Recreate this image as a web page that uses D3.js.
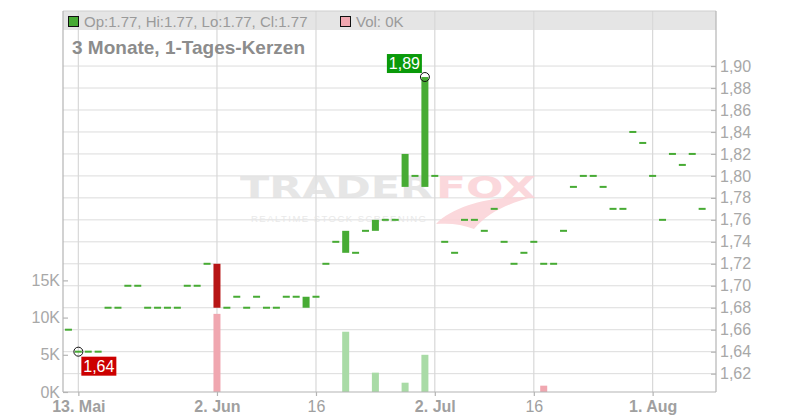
<!DOCTYPE html>
<html><head><meta charset="utf-8">
<script src="https://cdn.jsdelivr.net/npm/d3@7"></script>
<style>body{margin:0;background:#fff} svg{display:block;font-family:"Liberation Sans",Arial,sans-serif}</style>
</head><body><svg id="c" width="800" height="420"></svg>
<script>
const dates = [
 "2025-05-12","2025-05-13","2025-05-14","2025-05-15","2025-05-16","2025-05-19","2025-05-20","2025-05-21","2025-05-22","2025-05-23",
 "2025-05-26","2025-05-27","2025-05-28","2025-05-29","2025-05-30","2025-06-02","2025-06-03","2025-06-04","2025-06-05","2025-06-06",
 "2025-06-09","2025-06-10","2025-06-11","2025-06-12","2025-06-13","2025-06-16","2025-06-17","2025-06-18","2025-06-19","2025-06-20",
 "2025-06-23","2025-06-24","2025-06-25","2025-06-26","2025-06-27","2025-06-30","2025-07-01","2025-07-02","2025-07-03","2025-07-04",
 "2025-07-07","2025-07-08","2025-07-09","2025-07-10","2025-07-11","2025-07-14","2025-07-15","2025-07-16","2025-07-17","2025-07-18",
 "2025-07-21","2025-07-22","2025-07-23","2025-07-24","2025-07-25","2025-07-28","2025-07-29","2025-07-30","2025-07-31","2025-08-01",
 "2025-08-04","2025-08-05","2025-08-06","2025-08-07","2025-08-08"];
const opens = [
 1.66,1.64,1.64,1.64,1.68,1.68,1.70,1.70,1.68,1.68,
 1.68,1.68,1.70,1.70,1.72,1.72,1.68,1.69,1.68,1.69,
 1.68,1.68,1.69,1.69,1.68,1.69,1.72,1.74,1.73,1.73,
 1.75,1.75,1.76,1.76,1.79,1.80,1.79,1.80,1.74,1.73,
 1.76,1.76,1.75,1.77,1.74,1.72,1.73,1.74,1.72,1.72,
 1.75,1.79,1.80,1.80,1.79,1.77,1.77,1.84,1.83,1.80,
 1.76,1.82,1.81,1.82,1.77];
const closes = [
 1.66,1.64,1.64,1.64,1.68,1.68,1.70,1.70,1.68,1.68,
 1.68,1.68,1.70,1.70,1.72,1.68,1.68,1.69,1.68,1.69,
 1.68,1.68,1.69,1.69,1.69,1.69,1.72,1.74,1.75,1.73,
 1.75,1.76,1.76,1.76,1.82,1.80,1.89,1.80,1.74,1.73,
 1.76,1.76,1.75,1.77,1.74,1.72,1.73,1.74,1.72,1.72,
 1.75,1.79,1.80,1.80,1.79,1.77,1.77,1.84,1.83,1.80,
 1.76,1.82,1.81,1.82,1.77];
const volumes = [
 0,0,0,0,0,0,0,0,0,0,
 0,0,0,0,0,10500,0,0,0,0,
 0,0,0,0,0,0,0,0,8100,0,
 0,2600,0,0,1250,0,5000,0,0,0,
 0,0,0,0,0,0,0,0,850,0,
 0,0,0,0,0,0,0,0,0,0,
 0,0,0,0,0];
const priceTicks = [1.62,1.64,1.66,1.68,1.70,1.72,1.74,1.76,1.78,1.80,1.82,1.84,1.86,1.88,1.90];
const volTicks = [0,5000,10000,15000];
const xTickDates = ["2025-05-13","2025-06-02","2025-06-16","2025-07-02","2025-07-16","2025-08-01"];
const xTickLabels = ["13. Mai","2. Jun","16","2. Jul","16","1. Aug"];
const headerText = "Op:1.77, Hi:1.77, Lo:1.77, Cl:1.77";
const volText = "Vol: 0K";
const titleText = "3 Monate, 1-Tages-Kerzen";

const L = 63, R = 716, T = 11, B = 392;
const svg = d3.select("#c");
const n = dates.length;
const x = d3.scaleLinear().domain([-0.55, n + 0.4]).range([L, R]);
const y = d3.scaleLinear().domain([1.6033, 1.9501]).range([B, T]);
const yv = d3.scaleLinear().domain([0, 51200]).range([B, T]);
const fmtP = d => d3.format(".2f")(d).replace(".", ",");

// header band
svg.append("rect").attr("x", L).attr("y", T).attr("width", R - L).attr("height", 19).attr("fill", "#e5e5e5");

// grid
const g = svg.append("g");
g.selectAll("line.h").data(priceTicks).join("line")
  .attr("x1", L).attr("x2", R).attr("y1", d => y(d)).attr("y2", d => y(d))
  .attr("stroke", "#dcdcdc").attr("stroke-width", 1);
const tickIdx = xTickDates.map(d => dates.indexOf(d));
g.selectAll("line.v").data(tickIdx).join("line")
  .attr("x1", d => x(d)).attr("x2", d => x(d)).attr("y1", T).attr("y2", B)
  .attr("stroke", "#d8d8d8").attr("stroke-width", 1.2);

// watermark
const wm = svg.append("g").attr("opacity", 0.85);
wm.append("text").attr("x", 240).attr("y", 198).attr("font-family", "DejaVu Sans").attr("font-weight", "bold")
  .attr("font-size", 31).attr("textLength", 193).attr("lengthAdjust", "spacingAndGlyphs")
  .attr("fill", "#e2e2e2").text("TRADER");
wm.append("text").attr("x", 436).attr("y", 198).attr("font-family", "DejaVu Sans").attr("font-weight", "bold")
  .attr("font-size", 31).attr("textLength", 100).attr("lengthAdjust", "spacingAndGlyphs")
  .attr("fill", "#fbd2d6").text("FOX");
wm.append("text").attr("x", 251).attr("y", 222).attr("font-size", 9.5).attr("textLength", 175)
  .attr("lengthAdjust", "spacing").attr("fill", "#e6e6e6").text("REALTIME STOCK SCREENING");
wm.append("path").attr("d", "M436,224 C455,204 495,196 532,197 C510,203 488,212 474,229 C462,224 450,223 436,224 Z")
  .attr("fill", "#fbd2d6");

// volume bars
const cw = 7;
svg.append("g").selectAll("rect").data(volumes.map((v, i) => ({v, i})).filter(d => d.v > 0)).join("rect")
  .attr("x", d => x(d.i) - cw / 2).attr("width", cw)
  .attr("y", d => yv(d.v)).attr("height", d => B - yv(d.v))
  .attr("fill", d => (d.i > 0 && closes[d.i] < closes[d.i - 1]) ? "#f0a7b0" : "#a9dba6");

// candles
svg.append("g").selectAll("rect").data(d3.range(n)).join("rect")
  .attr("x", i => x(i) - cw / 2).attr("width", cw)
  .attr("y", i => Math.min(y(opens[i]), y(closes[i])) - (opens[i] === closes[i] ? 1 : 0))
  .attr("height", i => Math.max(Math.abs(y(opens[i]) - y(closes[i])), 2))
  .attr("fill", i => closes[i] < opens[i] ? "#b71515" : "#47ab34");

// frame
const fr = svg.append("g").attr("stroke", "#b4b4b4").attr("stroke-width", 1.2);
fr.append("line").attr("x1", L).attr("x2", R).attr("y1", T).attr("y2", T).attr("stroke", "#cfcfcf");
fr.append("line").attr("x1", L).attr("x2", L).attr("y1", T).attr("y2", B);
fr.append("line").attr("x1", R).attr("x2", R).attr("y1", T).attr("y2", B);
fr.append("line").attr("x1", L).attr("x2", R).attr("y1", B).attr("y2", B);

// axes
const axR = svg.append("g").attr("transform", `translate(${R},0)`)
  .call(d3.axisRight(y).tickValues(priceTicks).tickSize(-5).tickPadding(4).tickFormat(fmtP));
const axL = svg.append("g").attr("transform", `translate(${L},0)`)
  .call(d3.axisLeft(yv).tickValues(volTicks).tickSize(-5).tickPadding(3).tickFormat(d => (d / 1000) + "K"));
const axB = svg.append("g").attr("transform", `translate(0,${B})`)
  .call(d3.axisBottom(x).tickValues(tickIdx).tickSize(4).tickPadding(5).tickFormat((d, i) => xTickLabels[i]));
[axR, axL, axB].forEach(a => {
  a.select(".domain").remove();
  a.selectAll(".tick line").attr("stroke", "#b4b4b4").attr("stroke-width", 1.2);
  a.selectAll("text").attr("font-family", '"Liberation Sans",Arial,sans-serif').attr("font-size", 16).attr("fill", "#a8a8a8");
});
axB.selectAll("text").attr("font-weight", (d, i) => /\D/.test(xTickLabels[i]) ? "bold" : "normal").attr("fill", "#a0a0a0");

// header text
svg.append("rect").attr("x", 68.5).attr("y", 16.5).attr("width", 10).attr("height", 10).attr("fill", "#47ab34").attr("stroke", "#111");
svg.append("text").attr("x", 84).attr("y", 27).attr("font-size", 15).attr("fill", "#9a9a9a").text(headerText);
svg.append("rect").attr("x", 340.5).attr("y", 16.5).attr("width", 10).attr("height", 10).attr("fill", "#f0a7b0").attr("stroke", "#111");
svg.append("text").attr("x", 356).attr("y", 27).attr("font-size", 15).attr("fill", "#9a9a9a").text(volText);
svg.append("text").attr("x", 72).attr("y", 54).attr("font-size", 19)
  .attr("font-weight", "bold").attr("fill", "#8c8c8c").text(titleText);

// max / min markers
const iMax = d3.maxIndex(d3.range(n), i => Math.max(opens[i], closes[i]));
const iMin = d3.minIndex(d3.range(n), i => Math.min(opens[i], closes[i]));
const vMax = Math.max(opens[iMax], closes[iMax]);
const vMin = Math.min(opens[iMin], closes[iMin]);
function marker(i, v, bx, by, col) {
  svg.append("circle").attr("cx", x(i)).attr("cy", y(v)).attr("r", 4.5).attr("fill", "none").attr("stroke", "#111").attr("stroke-width", 1);
  svg.append("rect").attr("x", x(i) + bx).attr("y", y(v) + by).attr("width", 35).attr("height", 19).attr("fill", col);
  svg.append("text").attr("x", x(i) + bx + 17.5).attr("y", y(v) + by + 15).attr("text-anchor", "middle")
    .attr("font-size", 16).attr("fill", "#fff").text(fmtP(v));
}
marker(iMax, vMax, -38, -23, "#0a9a0a");
marker(iMin, vMin, 3, 5, "#cc0000");
</script></body></html>
